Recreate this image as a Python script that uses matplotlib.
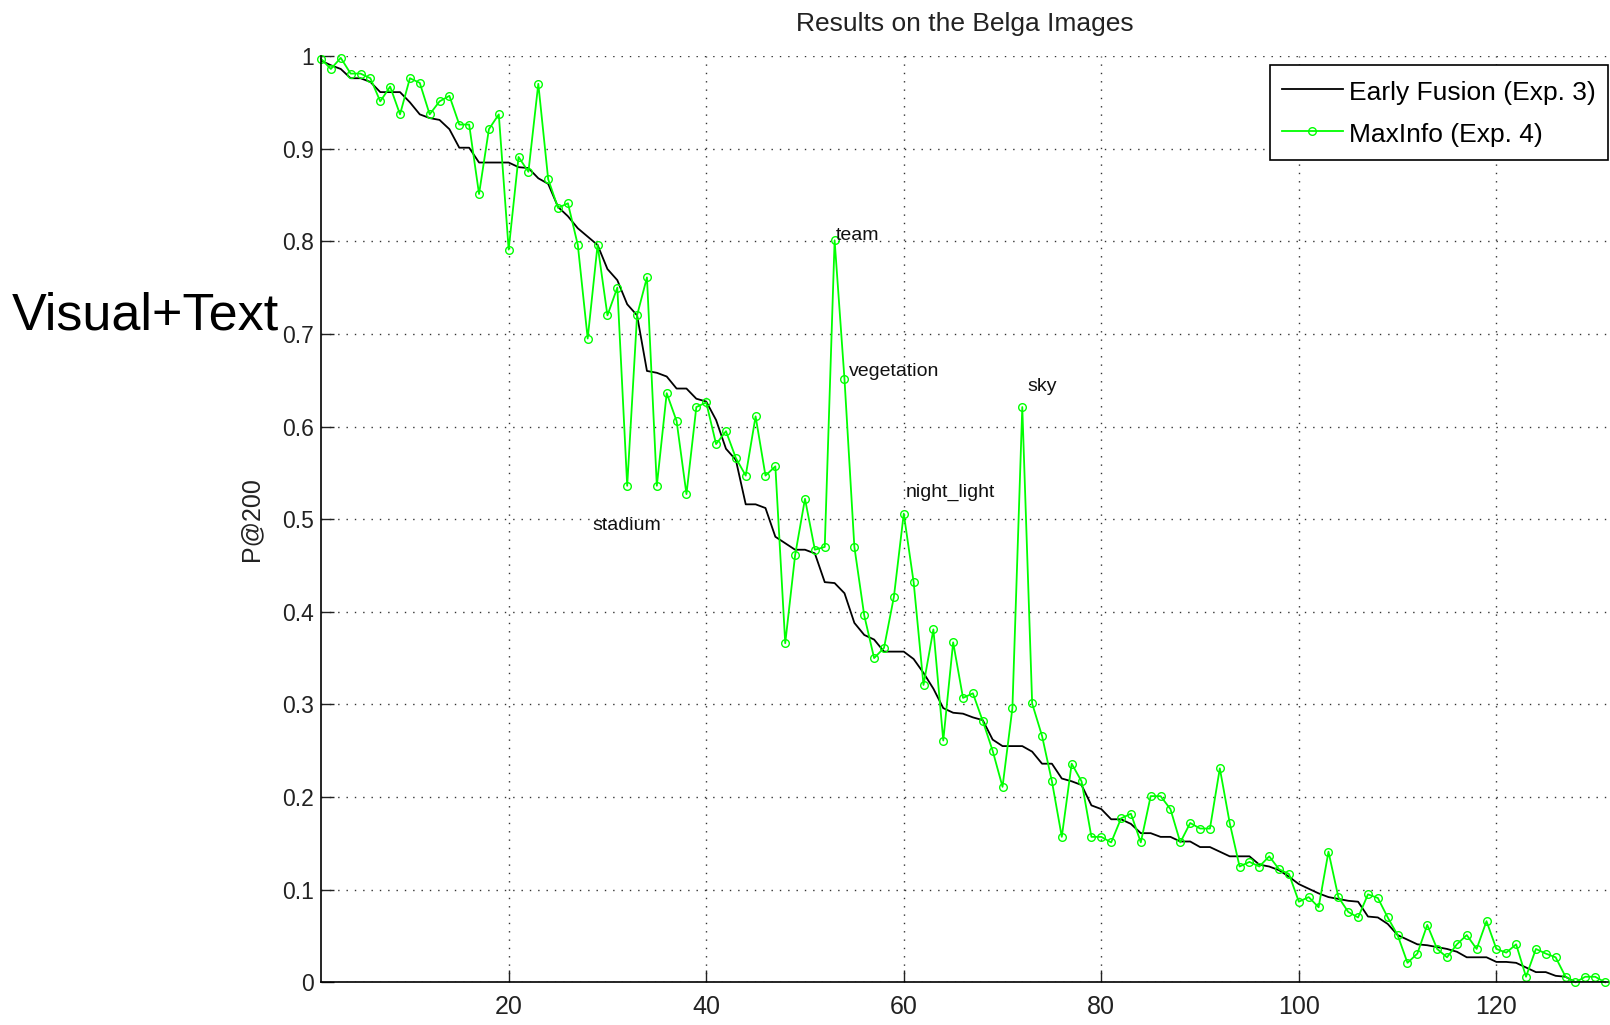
import matplotlib
matplotlib.use("Agg")
import numpy as np
import matplotlib.pyplot as plt

plt.rcParams["font.family"] = ["Liberation Sans", "DejaVu Sans"]

# query index (x axis)
query_idx = np.arange(1, 132)

# Early Fusion (Exp. 3) - P@200 per query
early_fusion = [
    0.995, 0.990, 0.986, 0.976, 0.976, 0.972, 0.961, 0.961, 0.961, 0.950,
    0.937, 0.933, 0.931, 0.921, 0.901, 0.901, 0.885, 0.885, 0.885, 0.885,
    0.880, 0.879, 0.868, 0.862, 0.837, 0.827, 0.814, 0.805, 0.796, 0.770,
    0.758, 0.732, 0.720, 0.660, 0.658, 0.654, 0.641, 0.641, 0.630, 0.627,
    0.607, 0.576, 0.564, 0.516, 0.516, 0.512, 0.481, 0.474, 0.467, 0.467,
    0.463, 0.432, 0.431, 0.420, 0.388, 0.375, 0.370, 0.357, 0.357, 0.357,
    0.349, 0.334, 0.317, 0.296, 0.291, 0.290, 0.286, 0.283, 0.262, 0.255,
    0.255, 0.255, 0.249, 0.236, 0.236, 0.220, 0.217, 0.213, 0.191, 0.187,
    0.176, 0.176, 0.171, 0.161, 0.161, 0.157, 0.157, 0.152, 0.152, 0.146,
    0.146, 0.141, 0.136, 0.136, 0.136, 0.127, 0.125, 0.121, 0.114, 0.106,
    0.101, 0.096, 0.092, 0.090, 0.088, 0.087, 0.071, 0.070, 0.063, 0.051,
    0.046, 0.041, 0.040, 0.038, 0.036, 0.033, 0.027, 0.027, 0.027, 0.022,
    0.022, 0.021, 0.016, 0.011, 0.011, 0.007, 0.006, 0.0, 0.0, 0.0, 0.0,
]

# MaxInfo (Exp. 4) - P@200 per query
max_info = [
    0.997, 0.986, 0.998, 0.981, 0.981, 0.976, 0.951, 0.967, 0.937, 0.976,
    0.971, 0.937, 0.951, 0.957, 0.926, 0.926, 0.851, 0.921, 0.937, 0.791,
    0.891, 0.875, 0.970, 0.867, 0.836, 0.841, 0.796, 0.695, 0.796, 0.720,
    0.750, 0.536, 0.720, 0.761, 0.536, 0.636, 0.606, 0.527, 0.621, 0.626,
    0.581, 0.595, 0.566, 0.547, 0.611, 0.547, 0.557, 0.366, 0.461, 0.522,
    0.467, 0.470, 0.801, 0.651, 0.470, 0.396, 0.350, 0.361, 0.416, 0.506,
    0.432, 0.321, 0.381, 0.261, 0.367, 0.307, 0.312, 0.282, 0.250, 0.211,
    0.296, 0.621, 0.301, 0.266, 0.217, 0.157, 0.236, 0.217, 0.157, 0.157,
    0.151, 0.177, 0.182, 0.151, 0.201, 0.201, 0.187, 0.151, 0.172, 0.166,
    0.166, 0.231, 0.172, 0.125, 0.130, 0.125, 0.136, 0.122, 0.117, 0.087,
    0.092, 0.081, 0.141, 0.092, 0.076, 0.070, 0.095, 0.091, 0.070, 0.051,
    0.021, 0.031, 0.062, 0.036, 0.027, 0.041, 0.051, 0.036, 0.066, 0.036,
    0.032, 0.041, 0.006, 0.036, 0.031, 0.027, 0.006, 0.0, 0.006, 0.006, 0.0,
]

# labelled queries: (text, x, y)
label_names = ["team", "vegetation", "night_light", "sky", "stadium"]
label_x = [53.1, 54.5, 60.2, 72.5, 28.45]
label_y = [0.801, 0.654, 0.524, 0.638, 0.488]

x_ticks = [20, 40, 60, 80, 100, 120]
y_ticks = [0, 0.1, 0.2, 0.3, 0.4, 0.5, 0.6, 0.7, 0.8, 0.9, 1.0]
y_tick_labels = ["0", "0.1", "0.2", "0.3", "0.4", "0.5", "0.6", "0.7", "0.8", "0.9", "1"]

W, H = 1610, 1025
fig = plt.figure(figsize=(W / 100, H / 100), dpi=100)
ax = fig.add_axes([321 / W, 1 - 982.3 / H, (1608 - 321) / W, (982.3 - 56) / H])

ax.plot(query_idx, early_fusion, color="black", lw=1.3, label="Early Fusion (Exp. 3)")
ax.plot(query_idx, max_info, color="#00ff00", lw=1.3, marker="o", ms=5.5,
        mfc="none", mew=1.0, label="MaxInfo (Exp. 4)", clip_on=False)

for name, lx, ly in zip(label_names, label_x, label_y):
    ax.text(lx, ly, name, fontsize=14, va="baseline", ha="left", color="#111")

ax.set_xlim(1, 131.3)
ax.set_ylim(0, 1)
ax.set_xticks(x_ticks)
ax.set_yticks(y_ticks)
ax.set_yticklabels(y_tick_labels)
ax.grid(True, linestyle=(0, (1, 5)), color="#333333", lw=1.0)
ax.set_axisbelow(True)
for s in ["top", "right"]:
    ax.spines[s].set_visible(False)
for s in ["left", "bottom"]:
    ax.spines[s].set_linewidth(1.2)

ax.tick_params(axis="both", direction="in", length=9, width=1.0, colors="#222222")
ax.tick_params(axis="x", labelsize=18, pad=9.3)
ax.tick_params(axis="y", labelsize=16.5, pad=5.3)

ax.set_title("Results on the Belga Images", fontsize=19, pad=18, color="#222222")
ax.set_ylabel("P@200", fontsize=18, color="#222222")
ax.yaxis.set_label_coords(-0.0448, 0.5)

leg = ax.legend(loc="upper right", bbox_to_anchor=(1.0, 0.99), borderaxespad=0,
                fancybox=False, edgecolor="black", framealpha=1, fontsize=19,
                handlelength=2.3, handleheight=1.3, numpoints=1, borderpad=0.45,
                labelspacing=0.5, handletextpad=0.25)
leg.get_frame().set_linewidth(1.2)

fig.text(12 / W, 1 - 329.3 / H, "Visual+Text", fontsize=37.5, va="baseline", ha="left")

fig.savefig("out.png", dpi=100)
